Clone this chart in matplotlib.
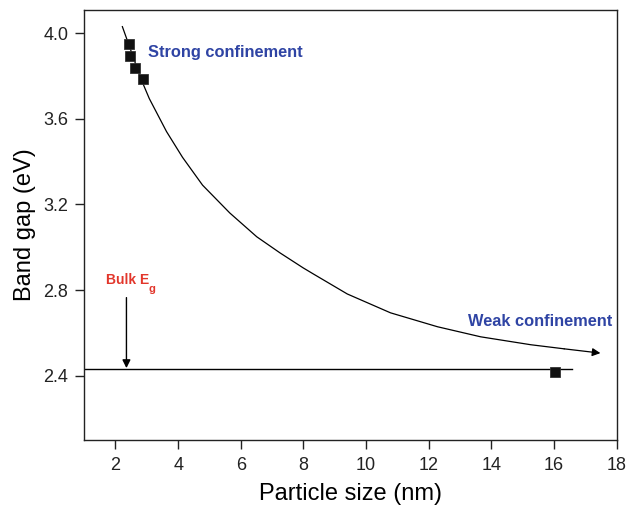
import numpy as np
import matplotlib.pyplot as plt

plt.rcParams["font.family"] = ["Liberation Sans", "DejaVu Sans"]

# measured band gaps
size_nm = [2.44, 2.46, 2.62, 2.87, 16.04]
band_gap = [3.949, 3.894, 3.838, 3.784, 2.417]

# guide curve
curve_x = [2.22, 2.44, 2.62, 2.86, 3.08, 3.63, 4.14, 4.78, 5.65, 6.51, 7.25,
           7.99, 8.31, 9.40, 10.78, 12.28, 13.66, 15.26, 16.32, 17.48]
curve_y = [4.03, 3.94, 3.865, 3.77, 3.694, 3.54, 3.42, 3.29, 3.160, 3.049,
           2.974, 2.904, 2.876, 2.782, 2.694, 2.629, 2.582, 2.545, 2.526, 2.506]

bulk_eg = 2.432
bulk_x = [1.0, 16.57]

fig = plt.figure(figsize=(6.28, 5.07), dpi=100)
ax = fig.add_axes([0.134, 0.132, 0.848, 0.848])

ax.plot(curve_x[:-1], curve_y[:-1], color="black", lw=0.9,
        solid_joinstyle="round")
ax.annotate("", xy=(curve_x[-1], curve_y[-1]), xytext=(curve_x[-2], curve_y[-2]),
            arrowprops=dict(arrowstyle="-|>", color="black", lw=0.9,
                            mutation_scale=12, shrinkA=0, shrinkB=0))

ax.plot(bulk_x, [bulk_eg, bulk_eg], color="black", lw=1.0)
ax.plot(size_nm, band_gap, "s", color="#111111", markersize=7,
        markeredgecolor="#333333", markeredgewidth=0.6)

ax.annotate("", xy=(2.35, bulk_eg + 0.004), xytext=(2.35, 2.765),
            arrowprops=dict(arrowstyle="-|>", color="black", lw=1.0,
                            mutation_scale=12, shrinkA=0, shrinkB=0))

blue = "#2f44a4"
red = "#e2362b"
ax.text(3.05, 3.91, "Strong confinement", color=blue, fontsize=11.8,
        fontweight="bold", va="center", ha="left")
ax.text(13.24, 2.652, "Weak confinement", color=blue, fontsize=11.8,
        fontweight="bold", va="center", ha="left")
ax.text(1.7, 2.845, "Bulk E", color=red, fontsize=10,
        fontweight="bold", va="center", ha="left")
ax.text(3.07, 2.805, "g", color=red, fontsize=8,
        fontweight="bold", va="center", ha="left")

ax.set_xlim(1, 18)
ax.set_ylim(2.1, 4.107)
ax.set_xticks(np.arange(2, 19, 2))
ax.set_yticks([2.4, 2.8, 3.2, 3.6, 4.0])
ax.set_yticklabels(["2.4", "2.8", "3.2", "3.6", "4.0"])
ax.tick_params(direction="out", length=6.5, width=1, labelsize=13,
               top=False, right=False, colors="#222222")
ax.tick_params(axis="x", pad=5.5)
ax.tick_params(axis="y", pad=5)
for s in ax.spines.values():
    s.set_linewidth(1.0)
    s.set_color("#222222")

ax.set_xlabel("Particle size (nm)", fontsize=17, labelpad=7)
ax.set_ylabel("Band gap (eV)", fontsize=17, labelpad=5)

fig.savefig("out.png", dpi=100)
